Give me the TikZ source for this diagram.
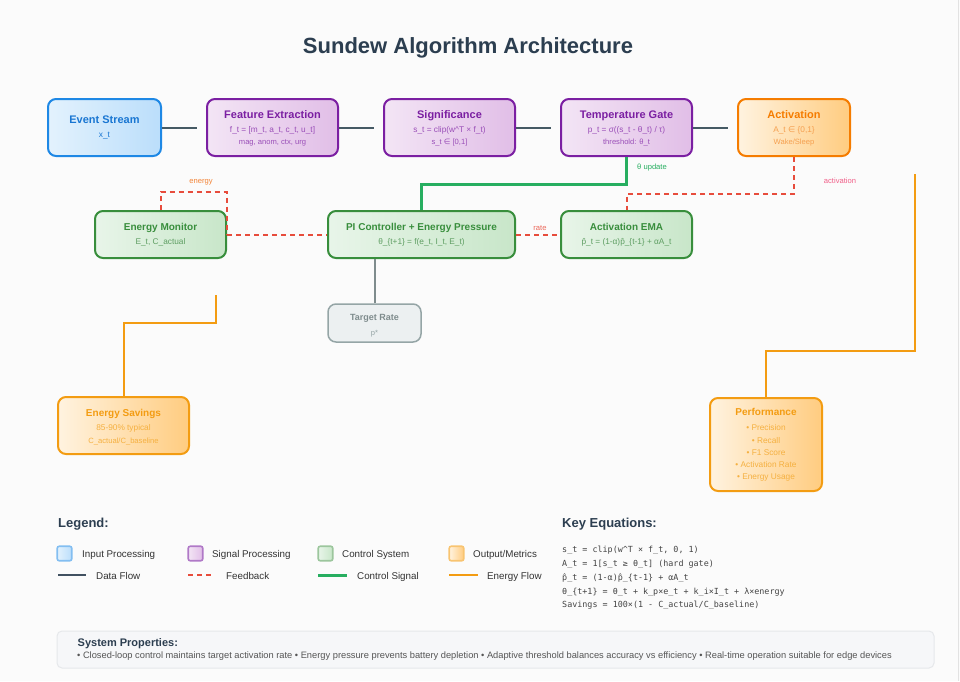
\documentclass[tikz,border=0pt]{standalone}
\usepackage{fontspec}
\setmainfont{Liberation Sans}
\newfontfamily\monof{DejaVu Sans Mono}
\newfontfamily\djv{DejaVu Sans}
\usetikzlibrary{calc}
\definecolor{bgc}{HTML}{FBFBFB}
\definecolor{sidebar}{HTML}{E2E2E2}
\definecolor{titlec}{HTML}{2C3E50}
\definecolor{blueB}{HTML}{1E88E5}
\definecolor{blueL}{HTML}{E3F2FD}
\definecolor{blueR}{HTML}{BBDEFB}
\definecolor{blueT}{HTML}{1976D2}
\definecolor{purB}{HTML}{7B1FA2}
\definecolor{purL}{HTML}{F3E5F5}
\definecolor{purR}{HTML}{E1BEE7}
\definecolor{purT}{HTML}{7B1FA2}
\definecolor{purS}{HTML}{9A4FB8}
\definecolor{grnB}{HTML}{388E3C}
\definecolor{grnL}{HTML}{E8F5E9}
\definecolor{grnR}{HTML}{C8E6C9}
\definecolor{grnT}{HTML}{388E3C}
\definecolor{grnS}{HTML}{5E9E62}
\definecolor{orB}{HTML}{F57C00}
\definecolor{orL}{HTML}{FFF3E0}
\definecolor{orR}{HTML}{FFCC80}
\definecolor{orT}{HTML}{F57C00}
\definecolor{orS}{HTML}{F5A050}
\definecolor{ylB}{HTML}{F39C12}
\definecolor{ylT}{HTML}{F39C12}
\definecolor{ylS}{HTML}{F5B040}
\definecolor{gryB}{HTML}{95A5A6}
\definecolor{gryF}{HTML}{ECF0F1}
\definecolor{gryT}{HTML}{7F8C8D}
\definecolor{dataC}{HTML}{455A64}
\definecolor{fbC}{HTML}{E74C3C}
\definecolor{ctrlC}{HTML}{27AE60}
\definecolor{enC}{HTML}{F39C12}
\definecolor{txtC}{HTML}{333333}
\definecolor{eqC}{HTML}{444444}
\definecolor{spF}{HTML}{F6F7F9}
\definecolor{spB}{HTML}{E6E8EB}
\definecolor{spT}{HTML}{555555}
\begin{document}
\begin{tikzpicture}[x=1pt,y=-1pt,
  box/.style={shape=rectangle, rounded corners=8pt, line width=2pt, inner sep=0pt},
  bluebox/.style={box, draw=blueB, left color=blueL, right color=blueR},
  purbox/.style={box, draw=purB, left color=purL, right color=purR},
  grnbox/.style={box, draw=grnB, left color=grnL, right color=grnR},
  orbox/.style={box, draw=orB, left color=orL, right color=orR},
  ylbox/.style={box, draw=ylB, left color=orL, right color=orR},
  grybox/.style={box, draw=gryB, fill=gryF, line width=1.5pt},
  ttlA/.style={anchor=base, inner sep=0pt, font=\bfseries\fontsize{11}{13}\selectfont},
  ttlB/.style={anchor=base, inner sep=0pt, font=\bfseries\fontsize{10}{12}\selectfont},
  subA/.style={anchor=base, inner sep=0pt, font=\fontsize{8.3}{10}\selectfont},
  subB/.style={anchor=base, inner sep=0pt, font=\fontsize{7.6}{9}\selectfont},
  lbl/.style={anchor=base, inner sep=0pt, font=\fontsize{7.6}{9}\selectfont},
  dataflow/.style={draw=dataC, line width=2pt},
  feedback/.style={draw=fbC, line width=2pt, dash pattern=on 5pt off 4pt},
  ctrlflow/.style={draw=ctrlC, line width=3pt},
  energyflow/.style={draw=enC, line width=2pt},
  legsq/.style={shape=rectangle, rounded corners=2pt, line width=1.6pt, inner sep=0pt, minimum width=14.5pt, minimum height=14.5pt},
  legtxt/.style={anchor=base west, inner sep=0pt, text=txtC, font=\fontsize{9.8}{12}\selectfont},
  hdr/.style={anchor=base west, inner sep=0pt, text=titlec, font=\bfseries\fontsize{13}{15}\selectfont},
  eq/.style={anchor=base west, inner sep=0pt, text=eqC, font=\monof\fontsize{8.4}{10}\selectfont}
]
\useasboundingbox (0,0) rectangle (960,681);
\fill[bgc] (0,0) rectangle (960,681);
\draw[sidebar, line width=1.5pt] (958.5,0) -- (958.5,681);

% Title
\node[anchor=base, inner sep=0pt, text=titlec, font=\bfseries\fontsize{22}{26}\selectfont] (title) at (468,53) {Sundew Algorithm Architecture};

% Top row boxes
\node[bluebox, minimum width=113pt, minimum height=57pt] (es) at (104.5,127.5) {};
\node[purbox, minimum width=131pt, minimum height=57pt] (fe) at (272.5,127.5) {};
\node[purbox, minimum width=131pt, minimum height=57pt] (sg) at (449.5,127.5) {};
\node[purbox, minimum width=131pt, minimum height=57pt] (tg) at (626.5,127.5) {};
\node[orbox, minimum width=112pt, minimum height=57pt] (ac) at (794,127.5) {};

% Middle row boxes
\node[grnbox, minimum width=131pt, minimum height=47pt] (em) at (160.5,234.5) {};
\node[grnbox, minimum width=187pt, minimum height=47pt] (pi) at (421.5,234.5) {};
\node[grnbox, minimum width=131pt, minimum height=47pt] (ema) at (626.5,234.5) {};
\node[grybox, minimum width=93pt, minimum height=38pt] (tr) at (374.5,323) {};

% Output boxes
\node[ylbox, minimum width=131pt, minimum height=57pt] (sav) at (123.5,425.5) {};
\node[ylbox, minimum width=112pt, minimum height=93pt] (pf) at (766,444.5) {};

% Box texts
\node[ttlA, text=blueT] (es1) at (104.5,123) {Event Stream};
\node[subA, text=blueT] (es2) at (104.5,137) {x\_t};

\node[ttlA, text=purT] (fe1) at (272.5,118) {Feature Extraction};
\node[subA, text=purS] (fe2) at (272.5,132) {f\_t = [m\_t, a\_t, c\_t, u\_t]};
\node[subB, text=purS] (fe3) at (272.5,144.6) {mag, anom, ctx, urg};

\node[ttlA, text=purT] (sg1) at (449.5,118) {Significance};
\node[subA, text=purS] (sg2) at (449.5,132) {s\_t = clip(w\textasciicircum T × f\_t)};
\node[subB, text=purS] (sg3) at (449.5,144.6) {s\_t {\djv ∈} [0,1]};

\node[ttlA, text=purT] (tg1) at (626.5,118) {Temperature Gate};
\node[subA, text=purS] (tg2) at (626.5,132) {p\_t = σ((s\_t - θ\_t) / τ)};
\node[subB, text=purS] (tg3) at (626.5,144.6) {threshold: θ\_t};

\node[ttlA, text=orT] (ac1) at (794,118) {Activation};
\node[subA, text=orS] (ac2) at (794,132) {A\_t {\djv ∈} \{0,1\}};
\node[subB, text=orS] (ac3) at (794,144.6) {Wake/Sleep};

\node[ttlB, text=grnT] (em1) at (160.5,230.6) {Energy Monitor};
\node[subA, text=grnS] (em2) at (160.5,244) {E\_t, C\_actual};

\node[ttlB, text=grnT] (pi1) at (421.5,230.6) {PI Controller + Energy Pressure};
\node[subA, text=grnS] (pi2) at (421.5,244) {θ\_\{t+1\} = f(e\_t, I\_t, E\_t)};

\node[ttlB, text=grnT] (ema1) at (626.5,230.6) {Activation EMA};
\node[subA, text=grnS] (ema2) at (626.5,244) {p̂\_t = (1-α)p̂\_\{t-1\} + αA\_t};

\node[anchor=base, inner sep=0pt, text=gryT, font=\bfseries\fontsize{9}{11}\selectfont] (tr1) at (374.5,320.3) {Target Rate};
\node[subB, text=gryB] (tr2) at (374.5,335) {p*};

\node[ttlB, text=ylT] (sav1) at (123.5,416.6) {Energy Savings};
\node[subA, text=ylS] (sav2) at (123.5,430) {85-90\% typical};
\node[subB, text=ylS] (sav3) at (123.5,443) {C\_actual/C\_baseline};

\node[ttlB, text=ylT] (pf1) at (766,415.6) {Performance};
\node[subA, text=ylS] (pf2) at (766,430) {• Precision};
\node[subA, text=ylS] (pf3) at (766,443) {• Recall};
\node[subA, text=ylS] (pf4) at (766,455) {• F1 Score};
\node[subA, text=ylS] (pf5) at (766,467) {• Activation Rate};
\node[subA, text=ylS] (pf6) at (766,479) {• Energy Usage};

% Data flow
\draw[dataflow] (es.east) -- ($(fe.west)+(-9,0)$);
\draw[dataflow] (fe.east) -- ($(sg.west)+(-9,0)$);
\draw[dataflow] (sg.east) -- ($(tg.west)+(-9,0)$);
\draw[dataflow] (tg.east) -- ($(ac.west)+(-9,0)$);

% Control signal
\draw[ctrlflow] (tg.south) -- ++(0,27) -| (pi.north);
\node[lbl, text=ctrlC] (thl) at (652,169) {θ update};

% Feedback
\draw[feedback] (ac.south) -- ++(0,37) -| (ema.north);
\node[lbl, text=fbC!75!magenta!80!white] (actl) at (840,183) {activation};
\draw[feedback] (pi.east) -- (ema.west);
\node[lbl, text=fbC!85!white] (ratel) at (540,230) {rate};
\draw[feedback] (em.east) -- (pi.west);
\draw[feedback] (em.north) -- ++(0,-18) -| (em.east);
\node[lbl, text=orB!70!fbC!85!white] (enl) at (201,183) {energy};

% Target rate
\draw[draw=gryT, line width=2pt] (tr.north) -- (tr.north |- pi.south);

% Energy flows
\coordinate (ef) at (216,295);
\draw[energyflow] (ef) -- ++(0,28) -| (sav.north);
\coordinate (pfc) at (915,174);
\draw[energyflow] (pfc) -- ++(0,177) -| (pf.north);

% Legend
\node[hdr] (legh) at (58,527.7) {Legend:};
\node[legsq, draw=blueB!55, left color=blueL, right color=blueR] (lq1) at (64.5,553.5) {};
\node[legtxt] (lt1) at (82,557.5) {Input Processing};
\node[legsq, draw=purB!60, left color=purL, right color=purR] (lq2) at (195.5,553.5) {};
\node[legtxt] (lt2) at (212,557.5) {Signal Processing};
\node[legsq, draw=grnB!50, left color=grnL, right color=grnR] (lq3) at (325.5,553.5) {};
\node[legtxt] (lt3) at (342,557.5) {Control System};
\node[legsq, draw=ylB!60, left color=orL, right color=orR] (lq4) at (456.5,553.5) {};
\node[legtxt] (lt4) at (473,557.5) {Output/Metrics};

\coordinate (ll1a) at (58,575); \coordinate (ll1b) at (86,575);
\draw[draw=titlec!90, line width=2pt] (ll1a) -- (ll1b);
\node[legtxt] (lt5) at (96,579.5) {Data Flow};
\coordinate (ll2a) at (188,575); \coordinate (ll2b) at (213,575);
\draw[feedback] (ll2a) -- (ll2b);
\node[legtxt] (lt6) at (226,579.5) {Feedback};
\coordinate (ll3a) at (318,575); \coordinate (ll3b) at (347,575);
\draw[ctrlflow] (ll3a) -- (ll3b);
\node[legtxt] (lt7) at (357,579.5) {Control Signal};
\coordinate (ll4a) at (449,575); \coordinate (ll4b) at (478,575);
\draw[energyflow] (ll4a) -- (ll4b);
\node[legtxt] (lt8) at (487,579.5) {Energy Flow};

% Key equations
\node[hdr] (eqh) at (562,527.7) {Key Equations:};
\node[eq] (eq1) at (562,552) {s\_t = clip(w\textasciicircum T × f\_t, 0, 1)};
\node[eq] (eq2) at (562,566) {A\_t = 1[s\_t ≥ θ\_t] (hard gate)};
\node[eq] (eq3) at (562,580) {p̂\_t = (1-α)p̂\_\{t-1\} + αA\_t};
\node[eq] (eq4) at (562,594) {θ\_\{t+1\} = θ\_t + k\_p×e\_t + k\_i×I\_t + λ×energy};
\node[eq] (eq5) at (562,607.5) {Savings = 100×(1 - C\_actual/C\_baseline)};

% System properties
\node[shape=rectangle, rounded corners=5pt, draw=spB, fill=spF, line width=1pt, minimum width=877pt, minimum height=37pt, inner sep=0pt] (sp) at (495.5,649.5) {};
\node[anchor=base west, inner sep=0pt, text=titlec, font=\bfseries\fontsize{11}{13}\selectfont] (sp1) at (77.5,646) {System Properties:};
\node[anchor=base west, inner sep=0pt, text=spT, font=\fontsize{9.3}{11}\selectfont] (sp2) at (77,658.5) {• Closed-loop control maintains target activation rate • Energy pressure prevents battery depletion • Adaptive threshold balances accuracy vs efficiency • Real-time operation suitable for edge devices};
\end{tikzpicture}
\end{document}
